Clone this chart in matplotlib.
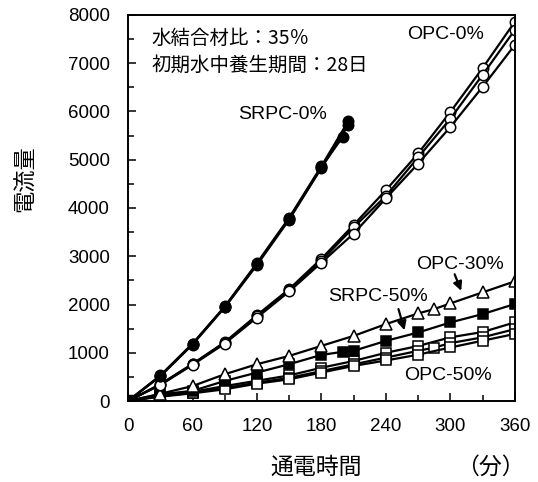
import matplotlib.pyplot as plt

plt.rcParams["font.family"] = ["Liberation Sans", "Noto Sans CJK JP"]
plt.rcParams["font.size"] = 12

# ---- data ----
T_FULL = [0, 30, 60, 90, 120, 150, 180, 210, 240, 270, 300, 330, 360]

# SRPC-0% : filled circles, three specimens (test stopped ~200 min)
srpc0_t = [
    [0, 30, 60, 90, 120, 150, 180, 200],
    [0, 30, 60, 90, 120, 150, 180, 205],
    [0, 30, 60, 90, 120, 150, 180, 205],
]
srpc0_v = [
    [0, 520, 1180, 1950, 2840, 3780, 4850, 5480],
    [0, 510, 1170, 1940, 2820, 3760, 4830, 5720],
    [0, 530, 1190, 1960, 2860, 3800, 4870, 5800],
]

# OPC-0% : open circles, three specimens
opc0_v = [
    [0, 350, 770, 1220, 1780, 2320, 2950, 3650, 4370, 5130, 5990, 6900, 7860],
    [0, 340, 760, 1210, 1760, 2300, 2910, 3600, 4250, 5050, 5850, 6760, 7690],
    [0, 330, 750, 1190, 1730, 2270, 2870, 3470, 4200, 4920, 5680, 6510, 7380],
]

# OPC-30% : open triangles
opc30_t = [0, 30, 60, 90, 120, 150, 180, 210, 240, 270, 285, 300, 330, 360]
opc30_v = [0, 150, 310, 555, 763, 935, 1143, 1350, 1594, 1815, 1906, 2023, 2252, 2480]

# SRPC-50% : filled squares
srpc50_t = [0, 30, 60, 90, 120, 150, 180, 200, 210, 240, 270, 300, 330, 360]
srpc50_v = [0, 140, 210, 416, 590, 763, 956, 1020, 1040, 1247, 1420, 1628, 1802, 2010]

# OPC-50% : open squares, three specimens
opc50_t = [
    T_FULL,
    [0, 30, 60, 90, 120, 150, 180, 210, 240, 270, 285, 300, 330, 360],
    T_FULL,
]
opc50_v = [
    [0, 110, 190, 310, 420, 530, 690, 830, 1000, 1140, 1320, 1430, 1630],
    [0, 100, 170, 270, 380, 480, 620, 760, 900, 1040, 1108, 1200, 1320, 1490],
    [0, 90, 160, 243, 360, 450, 590, 728, 840, 960, 1110, 1250, 1390],
]

# ---- plot ----
fig = plt.figure(figsize=(5.38, 4.82), dpi=100)
ax = fig.add_axes([0.238, 0.168, 0.719, 0.801])

line_kw = dict(color="black", lw=1.6, markeredgecolor="black", markeredgewidth=1.1)

for t, v in zip(opc50_t, opc50_v):
    ax.plot(t, v, marker="s", ms=7.5, markerfacecolor="white", **line_kw)
ax.plot(srpc50_t, srpc50_v, marker="s", ms=7.5, markerfacecolor="black", **line_kw)
ax.plot(opc30_t, opc30_v, marker="^", ms=8, markerfacecolor="white", **line_kw)
for v in opc0_v:
    ax.plot(T_FULL, v, marker="o", ms=7.5, markerfacecolor="white", **line_kw)
for t, v in zip(srpc0_t, srpc0_v):
    ax.plot(t, v, marker="o", ms=7.5, markerfacecolor="black", **line_kw)
ax.plot([0], [0], marker="s", ms=8, color="black", zorder=5)

ax.set_xlim(0, 360)
ax.set_ylim(0, 8000)
ax.set_xticks(range(0, 361, 60))
ax.set_xticks(range(0, 361, 30), minor=True)
ax.set_yticks(range(0, 8001, 1000))
ax.set_yticks(range(0, 8001, 500), minor=True)
ax.tick_params(which="both", direction="in", top=False, right=False)
ax.tick_params(which="major", length=6, width=1.1, labelsize=13.5)
ax.tick_params(axis="x", which="major", pad=12)
ax.tick_params(axis="y", which="major", pad=13)
ax.tick_params(which="minor", length=4, width=1.1)
for s in ax.spines.values():
    s.set_linewidth(1.4)

# annotations
jp = ["Noto Sans CJK JP", "Liberation Sans"]
ax.text(22, 7520, "水結合材比：35％", fontsize=14, family=jp, va="center")
ax.text(22, 6960, "初期水中養生期間：28日", fontsize=14, family=jp, va="center")
ax.text(260, 7600, "OPC-0%", fontsize=14, va="center")
ax.text(102, 5930, "SRPC-0%", fontsize=14, va="center")
ax.text(268, 2820, "OPC-30%", fontsize=14, va="center")
ax.text(186, 2170, "SRPC-50%", fontsize=14, va="center")
ax.text(257, 520, "OPC-50%", fontsize=14, va="center")

arrow_kw = dict(arrowstyle="-|>", color="black", lw=1.6, mutation_scale=13)
ax.annotate("", xy=(311, 2230), xytext=(303, 2680), arrowprops=arrow_kw)
ax.annotate("", xy=(258, 1410), xytext=(251, 1960), arrowprops=arrow_kw)

fig.text(0.047, 0.63, "電流量", family=jp, fontsize=16, rotation=90,
         ha="center", va="center")
fig.text(0.587, 0.031, "通電時間", family=jp, fontsize=16.5, ha="center", va="center")
fig.text(0.912, 0.031, "（分）", family=jp, fontsize=16.5, ha="center", va="center")

fig.savefig("out.png", dpi=100, facecolor="white")
